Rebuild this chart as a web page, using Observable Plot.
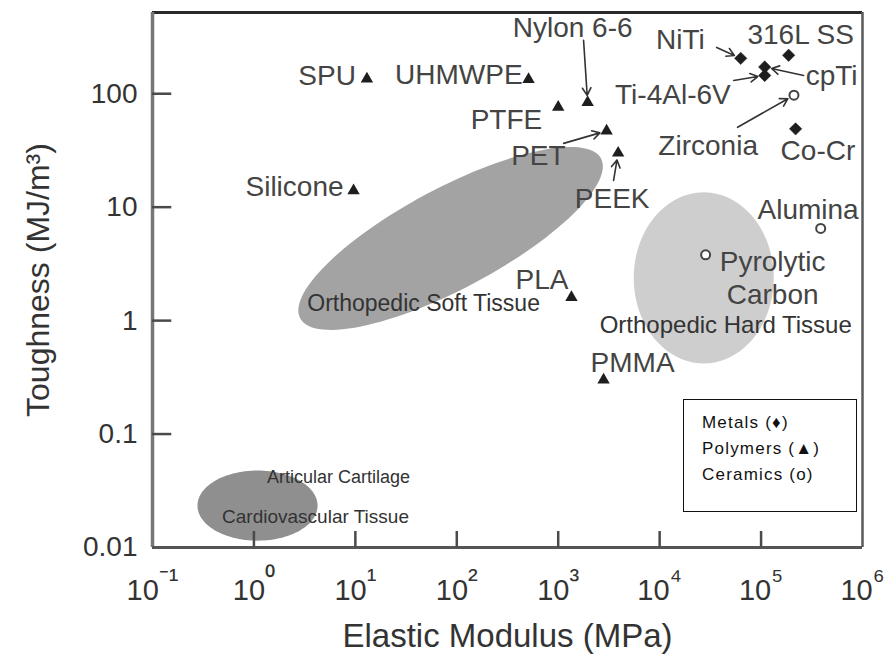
<!DOCTYPE html>
<html>
<head>
<meta charset="utf-8">
<script src="https://cdn.jsdelivr.net/npm/d3@7"></script>
<script src="https://cdn.jsdelivr.net/npm/@observablehq/plot@0.6"></script>
<style>
  html, body { margin: 0; padding: 0; background: #fff; }
  #wrap { position: relative; width: 889px; height: 657px; font-family: "Liberation Sans", Arial, sans-serif; }
  #legend { position: absolute; left: 683px; top: 399px; width: 174px; height: 113px; box-sizing: border-box;
    border: 1.5px solid #111; background: #fff; padding: 10px 0 0 18px; font-size: 17px; line-height: 26px;
    letter-spacing: 1.2px; color: #111; }
</style>
</head>
<body>
<div id="wrap"></div>
<script>
// ---- data ----
const polymers = ["SPU", "Silicone", "UHMWPE", "PTFE", "Nylon 6-6", "PET", "PEEK", "PLA", "PMMA"];
const polymerModulus = [13, 9.6, 510, 1000, 1950, 3000, 3900, 1350, 2800];
const polymerToughness = [135, 14, 134, 76, 84, 47, 30, 1.6, 0.3];

const metals = ["NiTi", "316L SS", "cpTi", "Ti-4Al-6V", "Co-Cr"];
const metalModulus = [63000, 187000, 108600, 108600, 219000];
const metalToughness = [205, 218, 172, 145, 49];

const ceramics = ["Zirconia", "Alumina", "Pyrolytic Carbon"];
const ceramicModulus = [211000, 387000, 28400];
const ceramicToughness = [97, 6.5, 3.8];

// tissue regions: centre and half-axes (in decades of modulus / toughness)
const regions = ["Orthopedic Soft Tissue", "Orthopedic Hard Tissue", "Articular Cartilage / Cardiovascular Tissue"];
const regionModulus = [86.9, 27200, 1.085];
const regionToughness = [5.3, 2.38, 0.0234];
const regionMajorDecades = [[1.483, 0.704], [0.690, 0], [0.592, 0]];
const regionMinorDecades = [[-0.233, 0.393], [0, 0.754], [0, 0.309]];

const regionLabels = ["Orthopedic Soft Tissue", "Orthopedic Hard Tissue", "Articular Cartilage", "Cardiovascular Tissue"];
const regionLabelRegion = [0, 1, 2, 2];

// leader arrows: start point (data units) -> material
const arrowTargets = ["Nylon 6-6", "PET", "PEEK", "NiTi", "Ti-4Al-6V", "cpTi", "Zirconia"];
const arrowFromModulus = [1778, 1130, 3515, 36500, 53700, 263000, 58700];
const arrowFromToughness = [296, 36.5, 17.2, 256, 131, 145, 50.6];

// axes
const xTicks = [0.1, 1, 10, 100, 1000, 10000, 100000, 1000000];
const xTickLabels = ["10⁻¹", "10⁰", "10¹", "10²", "10³", "10⁴", "10⁵", "10⁶"];
const yTicks = [0.01, 0.1, 1, 10, 100];
const yTickLabels = ["0.01", "0.1", "1", "10", "100"];
const xTitle = "Elastic Modulus (MPa)";
const yTitle = "Toughness (MJ/m³)";
const legendItems = ["Metals (♦)", "Polymers (▲)", "Ceramics (o)"];

// ---- layout / style (not data) ----
const yTickLengthDecades = 0.19;   // inward tick length along the log x axis
const labelLayout = {
  "SPU": {anchor: "end", dx: -11, dy: -5},
  "Silicone": {anchor: "end", dx: -10, dy: -5},
  "UHMWPE": {anchor: "end", dx: -6, dy: -6},
  "PTFE": {anchor: "end", dx: -16, dy: 11},
  "Nylon 6-6": {anchor: "middle", dx: -15, dy: -76},
  "PET": {anchor: "end", dx: -41, dy: 23},
  "PEEK": {anchor: "middle", dx: -6, dy: 44},
  "PLA": {anchor: "end", dx: -3, dy: -19},
  "PMMA": {anchor: "start", dx: -13, dy: -19},
  "NiTi": {anchor: "end", dx: -36, dy: -20},
  "316L SS": {anchor: "middle", dx: 12, dy: -22},
  "cpTi": {anchor: "start", dx: 41, dy: 7},
  "Ti-4Al-6V": {anchor: "end", dx: -34, dy: 18},
  "Co-Cr": {anchor: "start", dx: -15, dy: 21},
  "Zirconia": {anchor: "end", dx: -36, dy: 49},
  "Alumina": {anchor: "end", dx: 38, dy: -20},
  "Pyrolytic Carbon": {anchor: "middle", dx: 67, dy: -7, lineAnchor: "top", text: "Pyrolytic\nCarbon"}
};
const regionLabelLayout = [
  {dx: -27, dy: 65, size: 23},
  {dx: 22, dy: 47, size: 24},
  {dx: 81, dy: -28, size: 18},
  {dx: 58, dy: 11, size: 19}
];
const regionFill = ["#a3a3a3", "#cecece", "#8f8f8f"];

const names = [...polymers, ...metals, ...ceramics];
const modulus = [...polymerModulus, ...metalModulus, ...ceramicModulus];
const toughness = [...polymerToughness, ...metalToughness, ...ceramicToughness];
const idx = n => names.indexOf(n);

const angles = d3.range(0, 360, 3);
function outline(r) {
  return angles.map(a => {
    const t = a * Math.PI / 180;
    return {
      x: regionModulus[r] * 10 ** (regionMajorDecades[r][0] * Math.cos(t) + regionMinorDecades[r][0] * Math.sin(t)),
      y: regionToughness[r] * 10 ** (regionMajorDecades[r][1] * Math.cos(t) + regionMinorDecades[r][1] * Math.sin(t))
    };
  });
}

const xDomain = [0.1, 1e6];
const yDomain = [0.01, 520];
const labelColor = "#444";

const marks = [];
// regions
regions.forEach((r, i) => {
  marks.push(Plot.line(outline(i), {x: "x", y: "y", curve: "linear-closed", fill: regionFill[i], stroke: "none"}));
});
// frame
marks.push(Plot.ruleY([yDomain[1]], {stroke: "#2a2a2a", strokeWidth: 3}));
marks.push(Plot.ruleX([xDomain[1]], {stroke: "#5a5a5a", strokeWidth: 2.5}));
marks.push(Plot.ruleX([xDomain[0]], {stroke: "#777", strokeWidth: 3.5}));
marks.push(Plot.ruleY([yDomain[0]], {stroke: "#555", strokeWidth: 3}));
// inward ticks
marks.push(Plot.tickX(xTicks.slice(1, -1), {x: d => d, insetTop: 535 - 16, stroke: "#4a4a4a", strokeWidth: 2.5}));
marks.push(Plot.ruleY(yTicks.slice(1), {y: d => d, x1: xDomain[0], x2: xDomain[0] * 10 ** yTickLengthDecades,
  stroke: "#4a4a4a", strokeWidth: 2.5}));
// tick labels
marks.push(Plot.axisX(xTicks, {tickSize: 0, tickPadding: 32, fontSize: 29, color: "#333", label: null,
  tickFormat: d => xTickLabels[Math.round(Math.log10(d)) + 1]}));
marks.push(Plot.axisY(yTicks, {tickSize: 0, tickPadding: 15, fontSize: 28, color: "#333", label: null,
  tickFormat: d => yTickLabels[Math.round(Math.log10(d)) + 2]}));
// axis titles
marks.push(Plot.text([xTitle], {text: d => d, frameAnchor: "bottom", dy: 89, fontSize: 33, fill: "#333", lineAnchor: "middle"}));
marks.push(Plot.text([yTitle], {text: d => d, frameAnchor: "left", rotate: -90, dx: -114, fontSize: 32, fill: "#333", lineAnchor: "middle", textAnchor: "middle"}));
// region labels
regionLabels.forEach((lab, i) => {
  const r = regionLabelRegion[i], L = regionLabelLayout[i];
  marks.push(Plot.text([lab], {x: () => regionModulus[r], y: () => regionToughness[r], text: d => d,
    dx: L.dx, dy: L.dy, fontSize: L.size, fill: "#333", textAnchor: "middle", lineAnchor: "middle"}));
});
// arrows
marks.push(Plot.arrow(d3.range(arrowTargets.length), {
  x1: i => arrowFromModulus[i], y1: i => arrowFromToughness[i],
  x2: i => modulus[idx(arrowTargets[i])], y2: i => toughness[idx(arrowTargets[i])],
  insetEnd: 7, headLength: 8, stroke: "#333", strokeWidth: 1.6
}));
// points
marks.push(Plot.dot(polymers, {x: (d, i) => polymerModulus[i], y: (d, i) => polymerToughness[i], symbol: "triangle", r: 4.6, fill: "#1e1e1e", stroke: "none"}));
marks.push(Plot.dot(metals, {x: (d, i) => metalModulus[i], y: (d, i) => metalToughness[i], symbol: "diamond2", r: 5.6, fill: "#1e1e1e", stroke: "#1e1e1e", strokeWidth: 0.5}));
marks.push(Plot.dot(ceramics, {x: (d, i) => ceramicModulus[i], y: (d, i) => ceramicToughness[i], symbol: "circle", r: 4.5, fill: "white", stroke: "#444", strokeWidth: 2}));
// material labels
names.forEach((n, i) => {
  const L = labelLayout[n];
  marks.push(Plot.text([n], {x: () => modulus[i], y: () => toughness[i], text: () => L.text || n,
    dx: L.dx, dy: L.dy, textAnchor: L.anchor, lineAnchor: L.lineAnchor || "middle", lineHeight: 1.18,
    fontSize: 28, fill: labelColor}));
});

const svg = Plot.plot({
  width: 889, height: 657,
  marginLeft: 152, marginRight: 27, marginTop: 12, marginBottom: 110,
  x: {type: "log", domain: xDomain},
  y: {type: "log", domain: yDomain},
  style: {fontFamily: "'Liberation Sans', Arial, sans-serif", background: "white", overflow: "visible"},
  marks
});

// raise the exponent of x tick labels
svg.querySelectorAll('g[aria-label="x-axis tick label"] text').forEach(t => {
  const s = t.textContent;
  t.textContent = s.slice(0, 2);
  const ts = document.createElementNS("http://www.w3.org/2000/svg", "tspan");
  ts.setAttribute("dy", "-11");
  ts.textContent = s.slice(2);
  t.appendChild(ts);
});

const wrap = document.getElementById("wrap");
wrap.appendChild(svg);
const legend = document.createElement("div");
legend.id = "legend";
legend.innerHTML = legendItems.map(s => `<div>${s}</div>`).join("");
wrap.appendChild(legend);
</script>
</body>
</html>
